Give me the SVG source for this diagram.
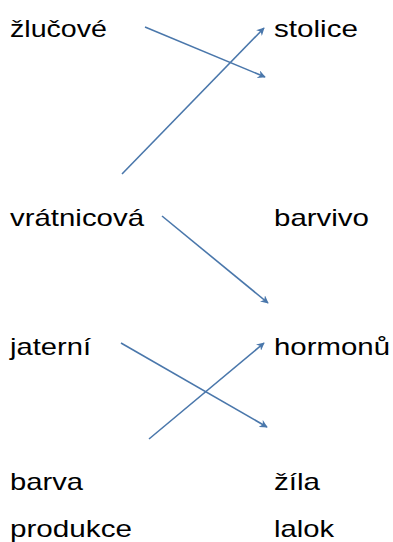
<svg xmlns="http://www.w3.org/2000/svg" width="393" height="542" viewBox="0 0 393 542">
<style>
text{font-family:"Liberation Sans",Arial,sans-serif;font-size:24px;fill:#000}
.c{stroke:#4a77ab;stroke-width:1.6;fill:none;marker-end:url(#ah)}
</style>
<defs>
<marker id="ah" viewBox="0 0 10 10" refX="9" refY="5" markerWidth="8" markerHeight="8" orient="auto" markerUnits="userSpaceOnUse">
<path d="M0,0 L10,5 L0,10 L3,5 Z" fill="#4a77ab"/>
</marker>
</defs>
<rect width="393" height="542" fill="#fff"/>
<g id="n-zlucove"><text x="10" y="37" textLength="97" lengthAdjust="spacingAndGlyphs">žlučové</text></g>
<g id="n-stolice"><text x="274" y="37" textLength="84" lengthAdjust="spacingAndGlyphs">stolice</text></g>
<g id="n-vratnicova"><text x="10" y="226" textLength="134" lengthAdjust="spacingAndGlyphs">vrátnicová</text></g>
<g id="n-barvivo"><text x="274" y="226" textLength="95" lengthAdjust="spacingAndGlyphs">barvivo</text></g>
<g id="n-jaterni"><text x="10" y="355" textLength="81" lengthAdjust="spacingAndGlyphs">jaterní</text></g>
<g id="n-hormonu"><text x="274" y="355" textLength="116" lengthAdjust="spacingAndGlyphs">hormonů</text></g>
<g id="n-barva"><text x="10" y="490" textLength="73" lengthAdjust="spacingAndGlyphs">barva</text></g>
<g id="n-zila"><text x="274" y="490" textLength="46" lengthAdjust="spacingAndGlyphs">žíla</text></g>
<g id="n-produkce"><text x="10" y="537" textLength="122" lengthAdjust="spacingAndGlyphs">produkce</text></g>
<g id="n-lalok"><text x="274" y="537" textLength="60" lengthAdjust="spacingAndGlyphs">lalok</text></g>
<g id="connectors">
<line class="c" x1="145" y1="27" x2="265" y2="77"/>
<line class="c" x1="122" y1="174" x2="264" y2="28"/>
<line class="c" x1="162" y1="216" x2="268" y2="303"/>
<line class="c" x1="121" y1="343" x2="267" y2="427"/>
<line class="c" x1="149" y1="439" x2="264" y2="343"/>
</g>
</svg>
